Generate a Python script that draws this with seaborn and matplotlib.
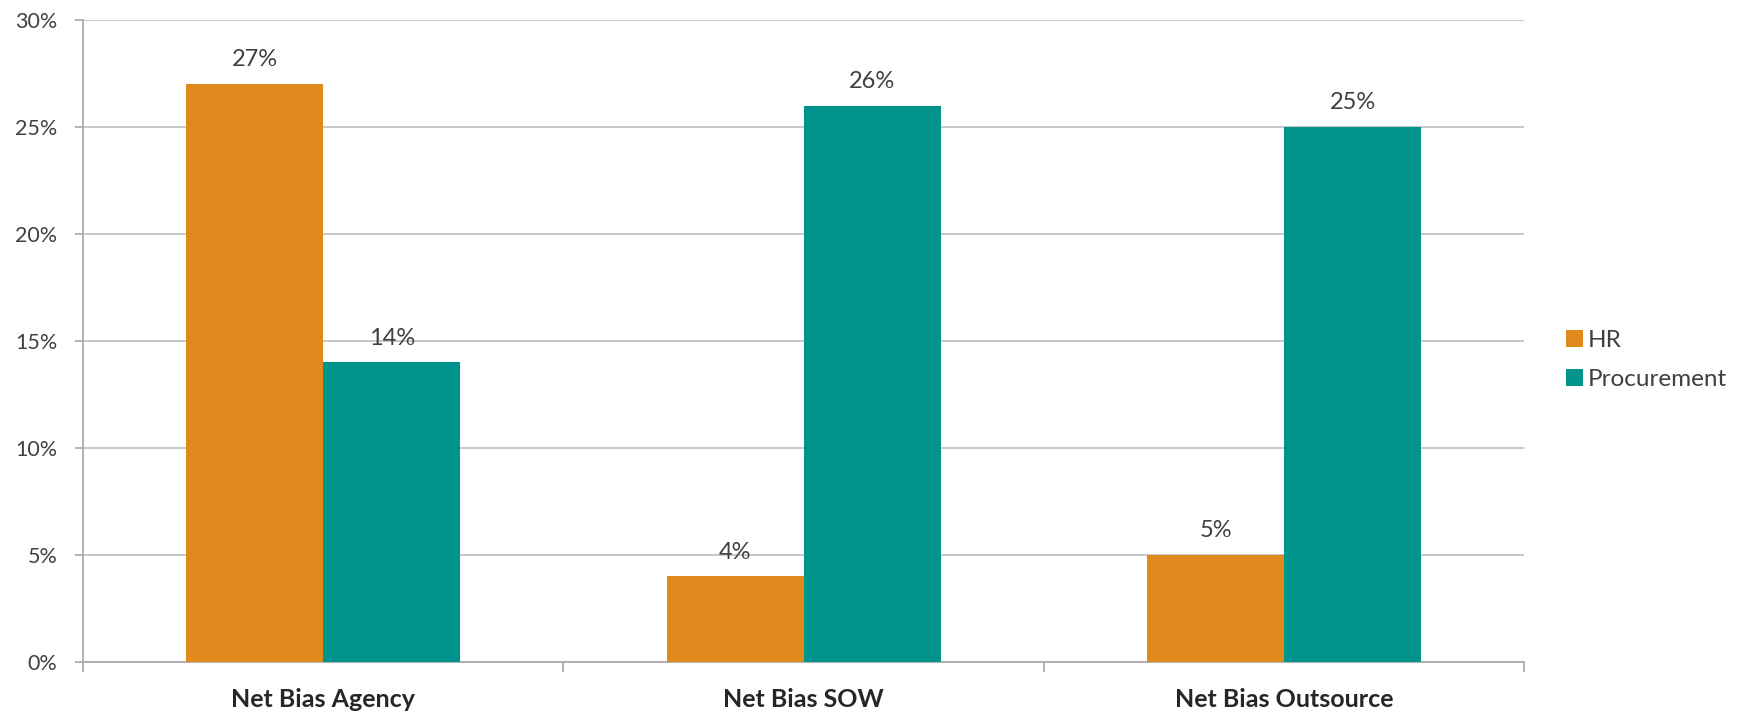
import matplotlib
matplotlib.use("Agg")
import matplotlib.pyplot as plt
from matplotlib.ticker import FixedLocator, PercentFormatter
import seaborn as sns
import pandas as pd

categories = ["Net Bias Agency", "Net Bias SOW", "Net Bias Outsource"]
groups = ["HR", "Procurement"]
hr_values = [27, 4, 5]
procurement_values = [14, 26, 25]
y_ticks = [0, 5, 10, 15, 20, 25, 30]

palette = {"HR": "#E08A1E", "Procurement": "#00948C"}

df = pd.DataFrame({
    "category": categories * 2,
    "group": [groups[0]] * 3 + [groups[1]] * 3,
    "value": hr_values + procurement_values,
})

sns.set_theme(style="white")
plt.rcParams["font.family"] = ["Lato", "DejaVu Sans"]

fig = plt.figure(figsize=(17.47, 7.13), dpi=100)
ax = fig.add_axes([0.0475, 0.0715, 0.825, 0.9005])

sns.barplot(data=df, x="category", y="value", hue="group", order=categories,
            hue_order=groups, palette=palette, width=0.57, saturation=1,
            linewidth=0, ax=ax, zorder=3)

ax.set_ylim(0, 30)
ax.set_xlim(-0.5, len(categories) - 0.5)
ax.yaxis.set_major_locator(FixedLocator(y_ticks))
ax.yaxis.set_major_formatter(PercentFormatter(decimals=0))
ax.grid(axis="y", color="#BFBFBF", linewidth=1.2, zorder=0)
ax.set_axisbelow(True)

for side in ["top", "right"]:
    ax.spines[side].set_visible(False)
for side in ["left", "bottom"]:
    ax.spines[side].set_color("#A6A6A6")
    ax.spines[side].set_linewidth(1.2)

# category separators as outward ticks on the x-axis
ax.xaxis.set_minor_locator(FixedLocator([i - 0.5 for i in range(len(categories) + 1)]))
ax.tick_params(axis="x", which="minor", bottom=True, length=7, width=1.2,
               color="#A6A6A6", direction="out")
ax.tick_params(axis="x", which="major", bottom=False, length=0, pad=19)
ax.tick_params(axis="y", left=True, length=6, width=1.2, color="#A6A6A6",
               direction="out", labelsize=15.5, labelcolor="#404040", pad=12.5)
for lbl in ax.get_xticklabels():
    lbl.set_fontsize(18)
    lbl.set_fontweight("bold")
    lbl.set_color("#262626")

ax.set_xlabel("")
ax.set_ylabel("")

for container in ax.containers:
    ax.bar_label(container, labels=[f"{v:.0f}%" for v in container.datavalues],
                 padding=10, fontsize=17, color="#404040")

leg = ax.legend(loc="center left", bbox_to_anchor=(1.029, 0.47), frameon=False,
                fontsize=17.5, handlelength=0.7, handleheight=0.7,
                handletextpad=0.2, labelspacing=0.73, borderpad=0,
                borderaxespad=0)
for t in leg.get_texts():
    t.set_color("#404040")

fig.savefig("out.png", dpi=100, facecolor="white")
